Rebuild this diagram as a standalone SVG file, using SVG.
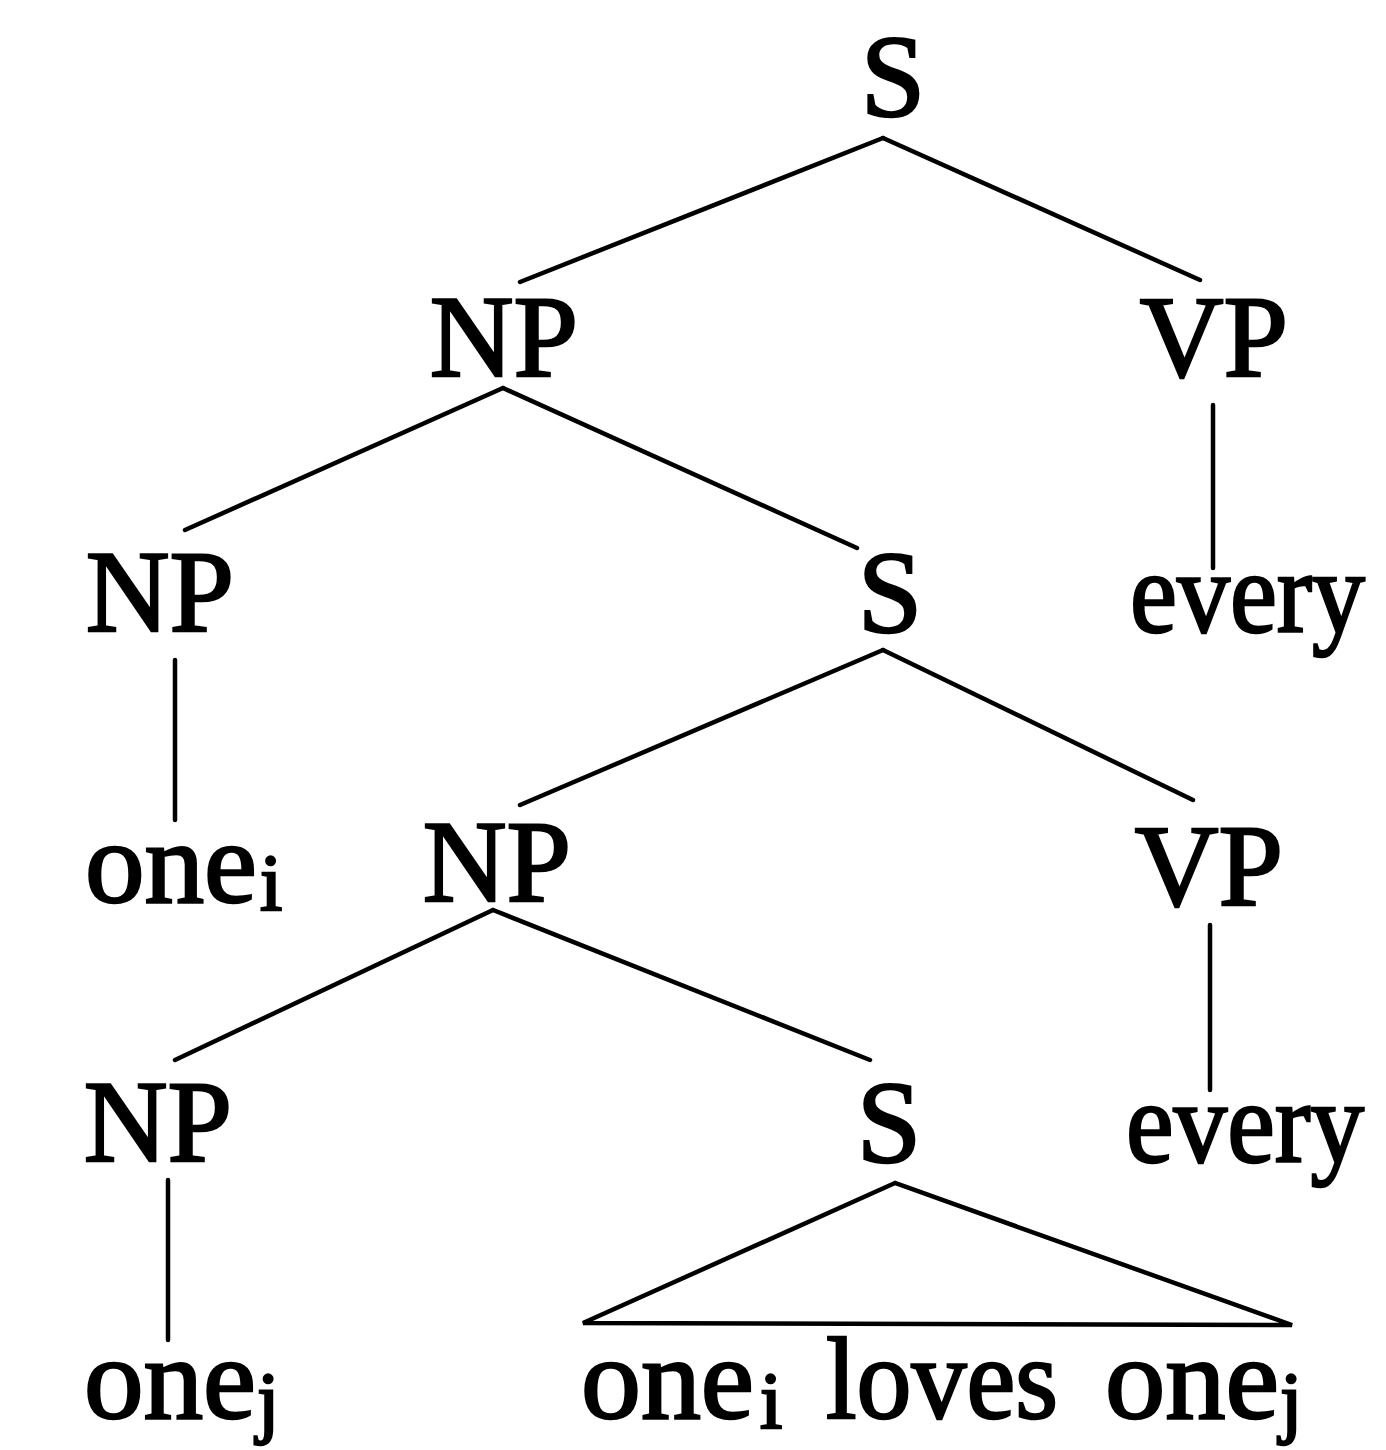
<svg xmlns="http://www.w3.org/2000/svg" width="1386" height="1450" viewBox="0 0 1386 1450">
<style>
text{font-family:"Liberation Serif","Times New Roman",serif;font-size:116px;fill:#000;stroke:#000;stroke-width:2.5px}
.sub{font-size:80px}
#connectors line,#connectors polygon{stroke:#000;stroke-width:4.5;fill:none;stroke-linecap:round}
</style>
<rect width="1386" height="1450" fill="#fff"/>
<g id="connectors">
<line x1="883" y1="138" x2="520" y2="282"/>
<line x1="883" y1="138" x2="1200" y2="280"/>
<line x1="503" y1="388" x2="185" y2="530"/>
<line x1="503" y1="388" x2="857" y2="548"/>
<line x1="1213" y1="405" x2="1213" y2="568"/>
<line x1="175" y1="660" x2="175" y2="820"/>
<line x1="883" y1="650" x2="520" y2="805"/>
<line x1="883" y1="650" x2="1193" y2="800"/>
<line x1="493" y1="910" x2="175" y2="1060"/>
<line x1="493" y1="910" x2="870" y2="1060"/>
<line x1="1210" y1="925" x2="1210" y2="1090"/>
<line x1="168" y1="1180" x2="168" y2="1340"/>
<polygon points="895,1183 583,1323 1292,1325"/>
</g>
<g id="n-S1"><text x="893" y="116" text-anchor="middle">S</text></g>
<g id="n-NP1"><text x="504" y="376" text-anchor="middle">NP</text></g>
<g id="n-VP1"><text x="1214" y="376" text-anchor="middle">VP</text></g>
<g id="n-NP2"><text x="160" y="631" text-anchor="middle">NP</text></g>
<g id="n-S2"><text x="890" y="632" text-anchor="middle">S</text></g>
<g id="n-every1"><text x="1130" y="632" textLength="235" lengthAdjust="spacingAndGlyphs">every</text></g>
<g id="n-onei"><text x="85" y="902" textLength="172" lengthAdjust="spacingAndGlyphs">one</text><text class="sub" x="260" y="910">i</text></g>
<g id="n-NP3"><text x="497" y="901" text-anchor="middle">NP</text></g>
<g id="n-VP2"><text x="1209" y="905" text-anchor="middle">VP</text></g>
<g id="n-NP4"><text x="158" y="1161" text-anchor="middle">NP</text></g>
<g id="n-S3"><text x="889" y="1162" text-anchor="middle">S</text></g>
<g id="n-every2"><text x="1126" y="1162" textLength="238" lengthAdjust="spacingAndGlyphs">every</text></g>
<g id="n-S3yield"><text x="581" y="1418" textLength="173" lengthAdjust="spacingAndGlyphs">one</text><text class="sub" x="760" y="1428">i</text><text x="826" y="1418" textLength="232" lengthAdjust="spacingAndGlyphs">loves</text><text x="1105" y="1418" textLength="174" lengthAdjust="spacingAndGlyphs">one</text><text class="sub" x="1280" y="1428">j</text></g>
<g id="n-onej"><text x="84" y="1418" textLength="172" lengthAdjust="spacingAndGlyphs">one</text><text class="sub" x="257" y="1428">j</text></g>
</svg>
